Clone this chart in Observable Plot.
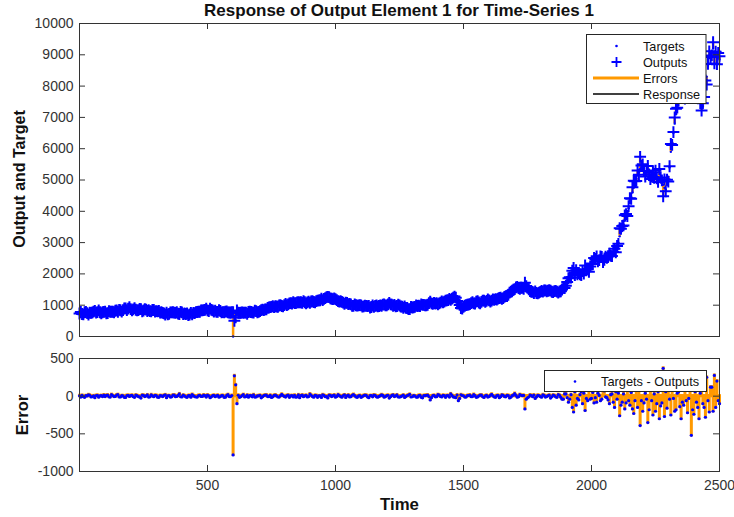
<!DOCTYPE html>
<html><head><meta charset="utf-8">
<script src="https://cdn.jsdelivr.net/npm/d3@7"></script>
<script src="https://cdn.jsdelivr.net/npm/@observablehq/plot@0.6"></script>
<style>
body{margin:0;background:#fff;}
#wrap{position:relative;width:734px;height:517px;overflow:hidden;font-family:"Liberation Sans",Arial,sans-serif;}
#wrap svg{position:absolute;left:0;}
</style></head><body><div id="wrap"></div>
<script>
// ---- data, one value every 5 time steps ----
const timeStart = 0, timeEnd = 2500, timeStep = 5;
const targets = [
 740,770,730,700,760,790,750,720,770,745,
 760,800,800,770,790,820,780,750,770,800,
 790,750,760,800,780,810,800,770,820,850,
 810,840,830,800,850,880,880,850,900,930,
 880,850,860,890,870,840,840,870,850,820,
 840,870,860,830,830,800,820,850,840,810,
 820,790,800,770,780,750,750,720,740,710,
 730,760,760,790,780,750,770,740,750,780,
 760,730,740,710,720,690,710,740,730,760,
 740,770,770,800,800,830,830,860,860,880,
 850,820,870,840,840,810,820,790,800,830,
 810,780,790,760,780,810,790,760,760,790,
 0,770,760,730,770,740,750,780,780,750,
 760,740,770,800,790,760,780,810,800,780,
 790,820,820,850,850,880,880,910,920,950,
 930,960,950,980,960,940,980,1010,1000,970,
 1000,1030,1010,1040,1040,1070,1060,1090,1080,1050,
 1080,1110,1070,1100,1090,1120,1100,1070,1080,1110,
 1100,1130,1120,1090,1100,1140,1130,1160,1160,1190,
 1180,1210,1220,1250,1240,1270,1230,1200,1200,1230,
 1180,1160,1150,1120,1120,1090,1090,1060,1060,1080,
 1050,1030,1020,990,1000,1030,990,970,1000,1010,
 980,950,970,1000,990,960,960,930,950,980,
 960,990,980,950,970,1000,1000,1030,1010,990,
 1000,1040,1050,1020,1030,1000,1000,970,990,1010,
 980,950,960,930,940,910,920,890,900,930,
 920,940,950,980,960,990,980,1010,990,1020,
 1000,1010,1030,1060,1060,1040,1050,1080,1040,1060,
 1050,1070,1080,1110,1100,1120,1130,1160,1170,1190,
 1200,1220,1230,1260,1220,1150,1050,980,930,900,
 950,970,990,1020,1030,1050,1060,1090,1080,1060,
 1100,1120,1090,1070,1120,1140,1130,1110,1150,1170,
 1150,1130,1170,1190,1160,1180,1190,1220,1210,1230,
 1220,1240,1260,1280,1300,1340,1380,1420,1470,1510,
 1550,1580,1570,1540,1540,1570,1560,1530,1550,1570,
 1530,1500,1470,1440,1420,1400,1410,1380,1390,1410,
 1420,1440,1450,1480,1460,1440,1470,1490,1440,1420,
 1430,1460,1450,1420,1420,1450,1430,1460,1520,1580,
 1650,1720,1780,1850,1900,1950,1980,2020,2000,1960,
 1980,2010,2020,1990,2050,2080,2110,2090,2150,2200,
 2300,2370,2420,2460,2480,2440,2450,2500,2500,2470,
 2520,2540,2490,2520,2550,2600,2600,2630,2650,2750,
 2850,3000,3200,3320,3450,3580,3700,3820,3950,4100,
 4300,4450,4600,4750,4900,5050,5150,5250,5350,5400,
 5300,5200,5150,5250,5100,5000,5150,5050,5000,5100,
 5100,4950,5000,5050,4950,4900,4850,4750,4700,4850,
 5100,5400,5900,6200,6500,6800,7100,7350,7600,7750,
 7900,7850,7800,7700,7600,7650,7700,7800,7900,7950,
 8000,7900,7800,7700,7600,7500,7400,7350,7500,7900,
 8300,8650,8900,9050,9100,9200,9000,8950,8900,9000,
 8850
];
const errors = [ // Targets - Outputs
 5,-12,10,-8,-15,6,3,18,12,-10,
 -8,4,-20,9,10,-14,4,7,-6,15,
 -6,10,15,-9,-12,20,8,-5,-3,14,
 20,-11,-10,6,5,-16,-18,9,10,-4,
 6,12,-8,-15,14,7,-5,-10,-25,13,
 10,-6,3,16,-12,-9,18,4,-7,11,
 9,-13,-15,8,4,-6,11,17,-20,5,
 6,-12,-9,14,15,-7,-4,10,30,-8,
 -10,13,5,-9,-16,7,8,-14,22,6,
 -6,-11,-12,9,10,-4,-3,15,7,-12,
 14,5,-20,-9,6,12,-8,4,12,-13,
 -5,7,9,-16,-14,10,20,-6,-6,9,
 -780,270,150,-100,12,-15,-8,9,20,-11,
 -5,13,-14,7,6,-9,18,-12,-10,5,
 4,11,-22,-8,8,14,15,-6,-6,12,
 -18,-9,10,15,3,-11,-12,6,25,9,
 -4,-12,9,13,-16,5,7,-10,12,-14,
 -9,17,-20,6,14,-8,5,11,-11,-5,
 28,12,-6,-13,10,8,-15,4,3,-17,
 18,10,-8,-7,-24,13,11,-6,6,15,
 -13,-4,20,8,-5,-14,9,16,-18,5,
 14,-10,-7,12,22,6,-10,-15,4,9,
 -16,-5,8,13,12,-11,-20,6,6,-9,
 15,11,-9,-14,-4,7,18,10,-14,-6,
 7,12,-25,-8,10,16,-6,5,16,-10,
 -12,-7,5,13,-18,-6,9,14,24,-11,
 -8,6,3,-12,-14,9,11,-16,-22,8,
 7,12,15,-5,-50,-20,6,10,-9,-7,
 20,13,-4,-10,12,6,-16,8,8,-12,
 30,10,-10,-14,-20,15,-60,-30,18,9,
 5,-12,-12,7,9,14,-7,-5,22,6,
 -15,-10,4,13,14,-8,-18,5,10,-12,
 -6,11,25,4,-11,-16,8,10,-20,-7,
 16,12,-5,-9,12,8,-24,-13,6,15,
 35,10,-14,-8,20,12,6,10,-170,-40,
 -22,-11,15,9,-8,14,-30,-10,12,7,
 -5,-14,18,10,-12,-6,7,13,-25,-9,
 14,8,-9,-16,20,11,-15,-40,-40,30,
 30,-20,-80,-40,20,-150,-210,60,-120,-30,
 -50,20,60,-100,40,-190,-30,-60,80,-40,
 -30,50,-90,-20,-80,40,10,-60,-40,90,
 70,-10,-20,-50,-100,20,30,-80,-150,60,
 -40,40,-260,-120,-80,30,-170,-90,100,-60,
 -120,50,-170,-230,-60,80,-150,80,-390,-60,
 -200,-90,40,-40,-350,-180,120,-60,-250,30,
 -200,-100,60,-300,-130,-90,370,-270,60,-160,
 150,-40,-250,80,-30,-200,-180,40,60,-140,
 -300,-80,-120,100,-60,-220,-30,100,-520,-180,
 -240,60,-80,-150,-300,40,180,-100,-150,-280,
 250,-60,-210,120,120,-200,275,-150,200,-60,
 -100
];
const topYTicks = [0,1000,2000,3000,4000,5000,6000,7000,8000,9000,10000];
const botYTicks = [-1000,-500,0,500];
const xTickLabels = [500,1000,1500,2000,2500];
const xTickMarks = [500,1000,1500,2000];
const topLegend = ["Targets","Outputs","Errors","Response"];
const botLegend = ["Targets - Outputs"];
const titleText = "Response of Output Element 1 for Time-Series 1";

// ---- table ----
const times = d3.range(timeStart, timeEnd + 1, timeStep);
const data = times.map((t,i)=>({t, target: targets[i], err: errors[i], output: targets[i]-errors[i]}));

const W = 734, ML = 79, MR = 15;
const PW = W - ML - MR;
const BLUE = "#0000ff", ORANGE = "#ff9900", AX = "#333";
const font = {fontFamily:"'Liberation Sans', Arial, sans-serif", fontSize:"14px", color:AX, background:"transparent", overflow:"visible"};

// ---- top panel ----
const TH = 345, TMT = 23, TMB = 9, TPH = TH - TMT - TMB;
const topPlot = Plot.plot({
  width: W, height: TH, marginLeft: ML, marginRight: MR, marginTop: TMT, marginBottom: TMB,
  style: font,
  x: {domain:[timeStart,timeEnd], axis:null},
  y: {domain:[0,10000]},
  marks: [
    Plot.ruleX(data, {x:"t", y1:"target", y2:"output", stroke:ORANGE, strokeWidth:2.5}),
    Plot.dot(data, {x:"t", y:"target", r:1.2, fill:BLUE, stroke:null}),
    Plot.dot(data, {x:"t", y:"output", symbol:"plus", r:3.9, stroke:BLUE, strokeWidth:2}),
    Plot.frame({stroke:AX}),
    Plot.axisY({ticks: topYTicks, tickSize:0, tickPadding:6, tickFormat:d=>String(d), label:null}),
    Plot.tickY(topYTicks, {y:d=>d, insetRight: PW-6, stroke:AX}),
    Plot.tickY(topYTicks, {y:d=>d, insetLeft: PW-6, stroke:AX}),
    Plot.tickX(xTickMarks, {x:d=>d, insetBottom: TPH-6, stroke:AX}),
    Plot.tickX(xTickMarks, {x:d=>d, insetTop: TPH-6, stroke:AX})
  ]
});
topPlot.style.top = "0px";

// ---- bottom panel ----
const BH = 172, BMT = 13, BMB = 46, BPH = BH - BMT - BMB;
const botPlot = Plot.plot({
  width: W, height: BH, marginLeft: ML, marginRight: MR, marginTop: BMT, marginBottom: BMB,
  style: font,
  x: {domain:[timeStart,timeEnd]},
  y: {domain:[-1000,500]},
  marks: [
    Plot.ruleX(data, {x:"t", y1:0, y2:"err", stroke:ORANGE, strokeWidth:3, strokeLinecap:"square"}),
    Plot.dot(data, {x:"t", y:"err", r:1.6, fill:BLUE, stroke:null}),
    Plot.frame({stroke:AX}),
    Plot.axisY({ticks: botYTicks, tickSize:0, tickPadding:6, tickFormat:d=>String(d), label:null}),
    Plot.axisX({ticks: xTickLabels, tickSize:0, tickPadding:9, tickFormat:d=>String(d), label:null}),
    Plot.tickY(botYTicks, {y:d=>d, insetRight: PW-6, stroke:AX}),
    Plot.tickY(botYTicks, {y:d=>d, insetLeft: PW-6, stroke:AX}),
    Plot.tickX(xTickMarks, {x:d=>d, insetBottom: BPH-6, stroke:AX}),
    Plot.tickX(xTickMarks, {x:d=>d, insetTop: BPH-6, stroke:AX})
  ]
});
botPlot.style.top = TH + "px";

const wrap = document.getElementById("wrap");
wrap.appendChild(topPlot);
wrap.appendChild(botPlot);

// ---- overlay: titles, axis labels, legends ----
const ov = d3.select(wrap).append("svg").attr("width", W).attr("height", 517)
  .style("top","0px").style("font-family","'Liberation Sans', Arial, sans-serif");
ov.append("text").attr("x", 399).attr("y", 16).attr("text-anchor","middle")
  .attr("font-weight","bold").attr("font-size", 17).attr("fill","#111").text(titleText);
ov.append("text").attr("transform","translate(25,179) rotate(-90)").attr("text-anchor","middle")
  .attr("font-weight","bold").attr("font-size", 16).attr("fill","#111").text("Output and Target");
ov.append("text").attr("transform","translate(28,415) rotate(-90)").attr("text-anchor","middle")
  .attr("font-weight","bold").attr("font-size", 16.5).attr("fill","#111").text("Error");
ov.append("text").attr("x", 399.5).attr("y", 510).attr("text-anchor","middle")
  .attr("font-weight","bold").attr("font-size", 16.8).attr("fill","#111").text("Time");

// top legend
const lg = ov.append("g");
lg.append("rect").attr("x",586.5).attr("y",34.5).attr("width",119.5).attr("height",69)
  .attr("fill","white").attr("stroke","#262626");
const rowsY = [46, 62, 78, 94];
lg.append("circle").attr("cx",616.5).attr("cy",rowsY[0]).attr("r",1.3).attr("fill",BLUE);
lg.append("path").attr("d",`M611.5,${rowsY[1]}h10M616.5,${rowsY[1]-5}v10`).attr("stroke",BLUE).attr("stroke-width",1.8);
lg.append("line").attr("x1",593).attr("x2",639).attr("y1",rowsY[2]).attr("y2",rowsY[2]).attr("stroke",ORANGE).attr("stroke-width",3);
lg.append("line").attr("x1",593).attr("x2",639).attr("y1",rowsY[3]).attr("y2",rowsY[3]).attr("stroke","#000").attr("stroke-width",1.4);
topLegend.forEach((s,i)=>lg.append("text").attr("x",643).attr("y",rowsY[i]+4.5).attr("font-size",12.7).attr("fill","#111").text(s));

// bottom legend
const lb = ov.append("g");
lb.append("rect").attr("x",544.5).attr("y",370.5).attr("width",162).attr("height",21)
  .attr("fill","white").attr("stroke","#262626");
lb.append("circle").attr("cx",575).attr("cy",381.5).attr("r",1.3).attr("fill",BLUE);
lb.append("text").attr("x",601).attr("y",386.3).attr("font-size",12.8).attr("fill","#111").text(botLegend[0]);
</script></body></html>
